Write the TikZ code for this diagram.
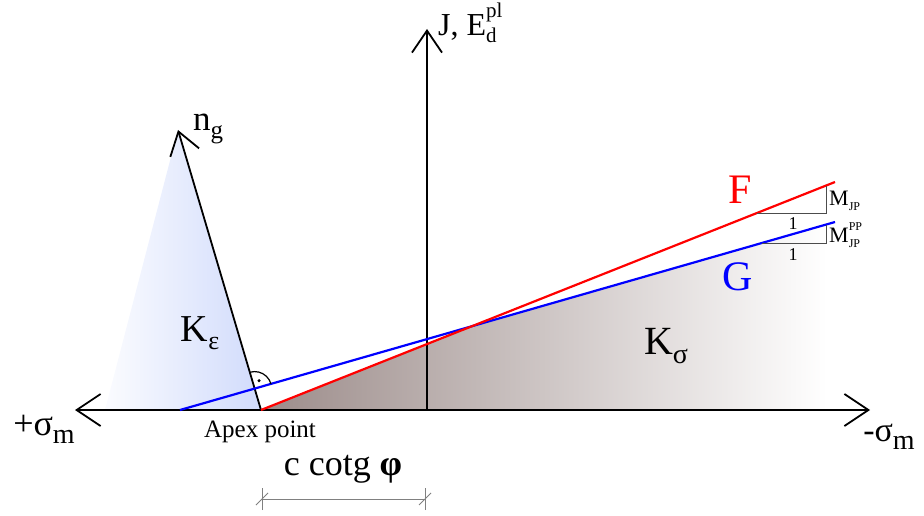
\documentclass[tikz,border=0pt]{standalone}
\usepackage{fontspec}
\setmainfont{Liberation Serif}
\usepackage{xcolor}
\definecolor{ksigma}{HTML}{9C8C8A}
\definecolor{keps}{HTML}{BCCBFA}
\definecolor{dimgrey}{HTML}{808080}
\usetikzlibrary{calc,arrows.meta,intersections}

\newcommand{\lowtext}[2]{\raisebox{-0.22em}{\fontsize{#1}{#1}\selectfont #2}}
\newcommand{\hightext}[2]{\raisebox{0.55em}{\fontsize{#1}{#1}\selectfont #2}}

\begin{document}
\begin{tikzpicture}[
		x=1pt, y=1pt,
		barb/.style={-{Straight Barb[length=22pt, width=30pt]}},
		twobarb/.style={{Straight Barb[length=24pt, width=32pt]}-{Straight Barb[length=24pt, width=32pt]}},
		mainline/.style={line width=1.8pt},
		yieldline/.style={line width=2.2pt},
		slopeline/.style={line width=0.8pt, black!70},
		dimline/.style={line width=1pt, dimgrey},
		lbl/.style={inner sep=0pt, font=\fontsize{#1}{#1}\selectfont}
	]
		\useasboundingbox (0,0) rectangle (924,515);

		% Main points
		\coordinate (apex) at (261,105);
		\coordinate (gstart) at (180,105);
		\coordinate (fend) at (835,333);
		\coordinate (gend) at (835,293);
		\coordinate (ngtip) at (178,385);
		\coordinate (origin) at (427,105);
		\coordinate (jtip) at (427,486);
		\coordinate (lefttip) at (75,105);
		\coordinate (righttip) at (870,105);

		% Helper paths for crossings
		\path[name path=gline] (gstart) -- (gend);
		\path[name path=fline] (apex) -- (fend);
		\path[name path=ngline] (apex) -- (ngtip);
		\path[name intersections={of=gline and fline, by=cross}];
		\path[name intersections={of=gline and ngline, by=rmark}];

		% Cones (shaded)
		\shade[left color=ksigma, right color=white] (apex) -- (cross) -- ($(gstart)!0.988!(gend)$) -- (826,105) -- cycle;
		\begin{scope}
			\clip (105,105) -- (ngtip) -- (apex) -- cycle;
			\shade[left color=white, right color=keps, rotate around={-14.6:(105,105)}] (105,40) rectangle (262,430);
		\end{scope}

		% Axes
		\draw[mainline, twobarb] (lefttip) -- (righttip);
		\draw[mainline, barb] (origin) -- (jtip);
		\draw[mainline, barb] (apex) -- (ngtip);

		% Yield surface F and plastic potential G
		\draw[yieldline, blue] (gstart) -- (gend);
		\draw[yieldline, red] (apex) -- (fend);

		% Right angle mark
		\draw[line width=1.2pt] (rmark) ++(106.5:17) arc[start angle=106.5, end angle=16, radius=17];
		\fill (rmark) ++(61:9) circle (1.7);

		% Slope triangles
		\draw[slopeline] (757,302) -- (826,302) -- (826,329.4);
		\draw[slopeline] (762,272) -- (826,272) -- (826,290.4);
		\node[lbl=18] (fone) at (793,291) {1};
		\node[lbl=18] (gone) at (793,260) {1};
		\node[lbl=22, anchor=west] (mjp) at (829,314) {M\lowtext{12}{JP}};
		\node[lbl=22, anchor=west] (mjppp) at (829,280) {M\rlap{\hightext{12}{PP}}\lowtext{12}{JP}};

		% Labels
		\node[lbl=42, red] (flabel) at (740,325) {F};
		\node[lbl=42, blue] (glabel) at (738,238) {G};
		\node[lbl=40] (ksig) at (666,169) {K\lowtext{28}{σ}};
		\node[lbl=38] (keps) at (200,182) {K\lowtext{26}{ε}};
		\node[lbl=35] (nglabel) at (208,386) {n\lowtext{25}{g}};
		\node[lbl=32, anchor=west] (jlabel) at (438,492) {J, E\rlap{\hightext{21}{pl}}\lowtext{21}{d}};
		\node[lbl=36] (pluslabel) at (44,86) {+σ\lowtext{28}{m}};
		\node[lbl=34] (minuslabel) at (889,78) {-σ\lowtext{28}{m}};
		\node[lbl=25] (apexlabel) at (260,83) {Apex point};

		% Dimension c cotg phi
		\coordinate (dimL) at (262,16);
		\coordinate (dimR) at (425,16);
		\draw[dimline] (dimL) -- (dimR);
		\foreach \p in {dimL, dimR} {
			\draw[dimline] ($(\p)+(0,-11)$) -- ($(\p)+(0,11)$);
			\draw[dimline] ($(\p)+(-6,-6)$) -- ($(\p)+(6,6)$);
		}
		\node[lbl=36] (cotg) at (343,46) {c cotg \textbf{φ}};
	\end{tikzpicture}
\end{document}
